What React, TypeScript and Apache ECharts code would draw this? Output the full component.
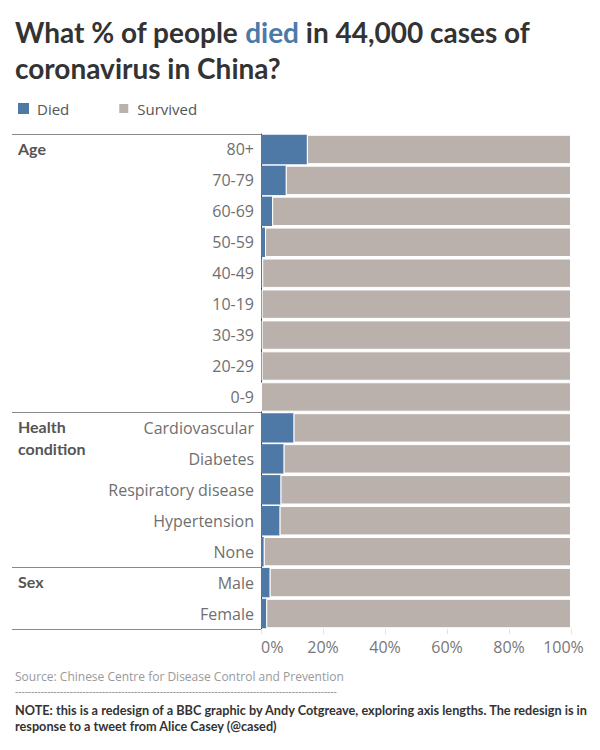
import React, { useEffect, useRef } from "react";
import * as echarts from "echarts";

const categories = [
  "80+", "70-79", "60-69", "50-59", "40-49", "10-19", "30-39", "20-29", "0-9",
  "Cardiovascular", "Diabetes", "Respiratory disease", "Hypertension", "None",
  "Male", "Female",
];
const died = [14.8, 8.0, 3.6, 1.3, 0.4, 0.2, 0.2, 0.2, 0.0, 10.5, 7.3, 6.3, 6.0, 0.9, 2.8, 1.7];
const survived = [85.2, 92.0, 96.4, 98.7, 99.6, 99.8, 99.8, 99.8, 100.0, 89.5, 92.7, 93.7, 94.0, 99.1, 97.2, 98.3];
const groupNames = ["Age", "Health\ncondition", "Sex"];
const groupStarts = [0, 9, 14];
const xTicks = [0, 20, 40, 60, 80, 100];

const FONT = "Lato, 'Noto Sans', sans-serif";
const FONT2 = "'Open Sans', 'Noto Sans', sans-serif";
const DIED = "#4e79a7";
const SURV = "#bab0ac";

const GRID_LEFT = 261;
const GRID_RIGHT_X = 571;
const GRID_TOP = 134;
const GRID_BOTTOM_Y = 629;

export default function App() {
  const ref = useRef<HTMLDivElement>(null);
  useEffect(() => {
    if (!ref.current) return;
    const chart = echarts.init(ref.current, undefined, { renderer: "svg" });
    const rowH = (GRID_BOTTOM_Y - GRID_TOP) / categories.length;
    const sepRows = [...groupStarts, categories.length];
    const graphics: any[] = [];
    graphics.push({
      type: "text",
      left: 15,
      top: 18,
      style: {
        text: "{a|What % of people }{b|died}{a| in 44,000 cases of}\n{a|coronavirus in China?}",
        rich: {
          a: { fontFamily: FONT, fontSize: 28, fontWeight: "bold", fill: "#333333", lineHeight: 36 },
          b: { fontFamily: FONT, fontSize: 28, fontWeight: "bold", fill: DIED, lineHeight: 36 },
        },
      },
    });
    sepRows.forEach((r) => {
      const y = Math.round(GRID_TOP + r * rowH) + 0.5;
      graphics.push({
        type: "line",
        shape: { x1: 12, y1: y, x2: GRID_LEFT, y2: y },
        style: { stroke: "#8a8a8a", lineWidth: 1 },
      });
    });
    groupNames.forEach((g, i) => {
      graphics.push({
        type: "text",
        x: 18,
        y: GRID_TOP + groupStarts[i] * rowH + 3,
        style: {
          text: g,
          fontFamily: FONT,
          fontSize: 16,
          fontWeight: "bold",
          fill: "#555555",
          lineHeight: 22,
        },
      });
    });
    graphics.push({
      type: "text",
      x: 15,
      y: 676,
      style: {
        text: "Source: Chinese Centre for Disease Control and Prevention",
        fontFamily: FONT2,
        fontSize: 12,
        lineHeight: 12,
        verticalAlign: "middle",
        fill: "#999999",
      },
    });
    graphics.push({
      type: "text",
      x: 15,
      y: 691,
      style: {
        text: "-".repeat(100),
        fontFamily: FONT2,
        fontSize: 10,
        lineHeight: 10,
        verticalAlign: "middle",
        fill: "#888888",
      },
    });
    graphics.push({
      type: "text",
      x: 15,
      y: 702,
      style: {
        text:
          "NOTE: this is a redesign of a BBC graphic by Andy Cotgreave, exploring axis lengths. The redesign is in\nresponse to a tweet from Alice Casey (@cased)",
        fontFamily: FONT,
        fontSize: 12.7,
        fontWeight: "bold",
        fill: "#333333",
        lineHeight: 16,
      },
    });

    chart.setOption({
      animation: false,
      backgroundColor: "#ffffff",
      textStyle: { fontFamily: FONT2 },
      legend: {
        left: 13,
        top: 96,
        icon: "rect",
        itemWidth: 11,
        itemHeight: 11,
        itemGap: 48,
        textStyle: {
          fontFamily: FONT2,
          fontSize: 15,
          color: "#555555",
          padding: [0, 0, 0, 3],
        },
        data: ["Died", "Survived"],
        selectedMode: false,
      },
      grid: {
        left: GRID_LEFT,
        right: 600 - GRID_RIGHT_X,
        top: GRID_TOP,
        bottom: 750 - GRID_BOTTOM_Y,
        containLabel: false,
      },
      xAxis: {
        type: "value",
        min: 0,
        max: 100,
        interval: 20,
        axisLine: { show: false },
        axisTick: { show: true, length: 5, lineStyle: { color: "#e3e3e3" } },
        splitLine: { show: false },
        axisLabel: {
          margin: 10,
          fontFamily: FONT2,
          fontSize: 16,
          color: "#777777",
          alignMinLabel: "left",
          formatter: (v: number) =>
            v === xTicks[xTicks.length - 1] ? "{m|" + v + "%}" : v + "%",
          rich: {
            m: { fontFamily: FONT2, fontSize: 16, color: "#777777", padding: [0, 15, 0, 0] },
          },
        },
      },
      yAxis: {
        type: "category",
        inverse: true,
        data: categories,
        axisLine: { show: true, lineStyle: { color: "#444444", width: 1 } },
        axisTick: { show: false },
        axisLabel: {
          margin: 7,
          fontFamily: FONT2,
          fontSize: 16,
          color: "#6f6f6f",
        },
      },
      series: [
        {
          name: "Died",
          type: "bar",
          stack: "total",
          data: died,
          barCategoryGap: "5%",
          itemStyle: { color: DIED },
        },
        {
          name: "Survived",
          type: "bar",
          stack: "total",
          data: survived,
          barCategoryGap: "5%",
          itemStyle: { color: SURV, borderColor: "#ffffff", borderWidth: 1 },
        },
      ],
      graphic: graphics,
    });
    return () => chart.dispose();
  }, []);
  return (
    <div
      ref={ref}
      style={{ position: "absolute", left: 0, top: 0, width: 600, height: 750 }}
    />
  );
}
